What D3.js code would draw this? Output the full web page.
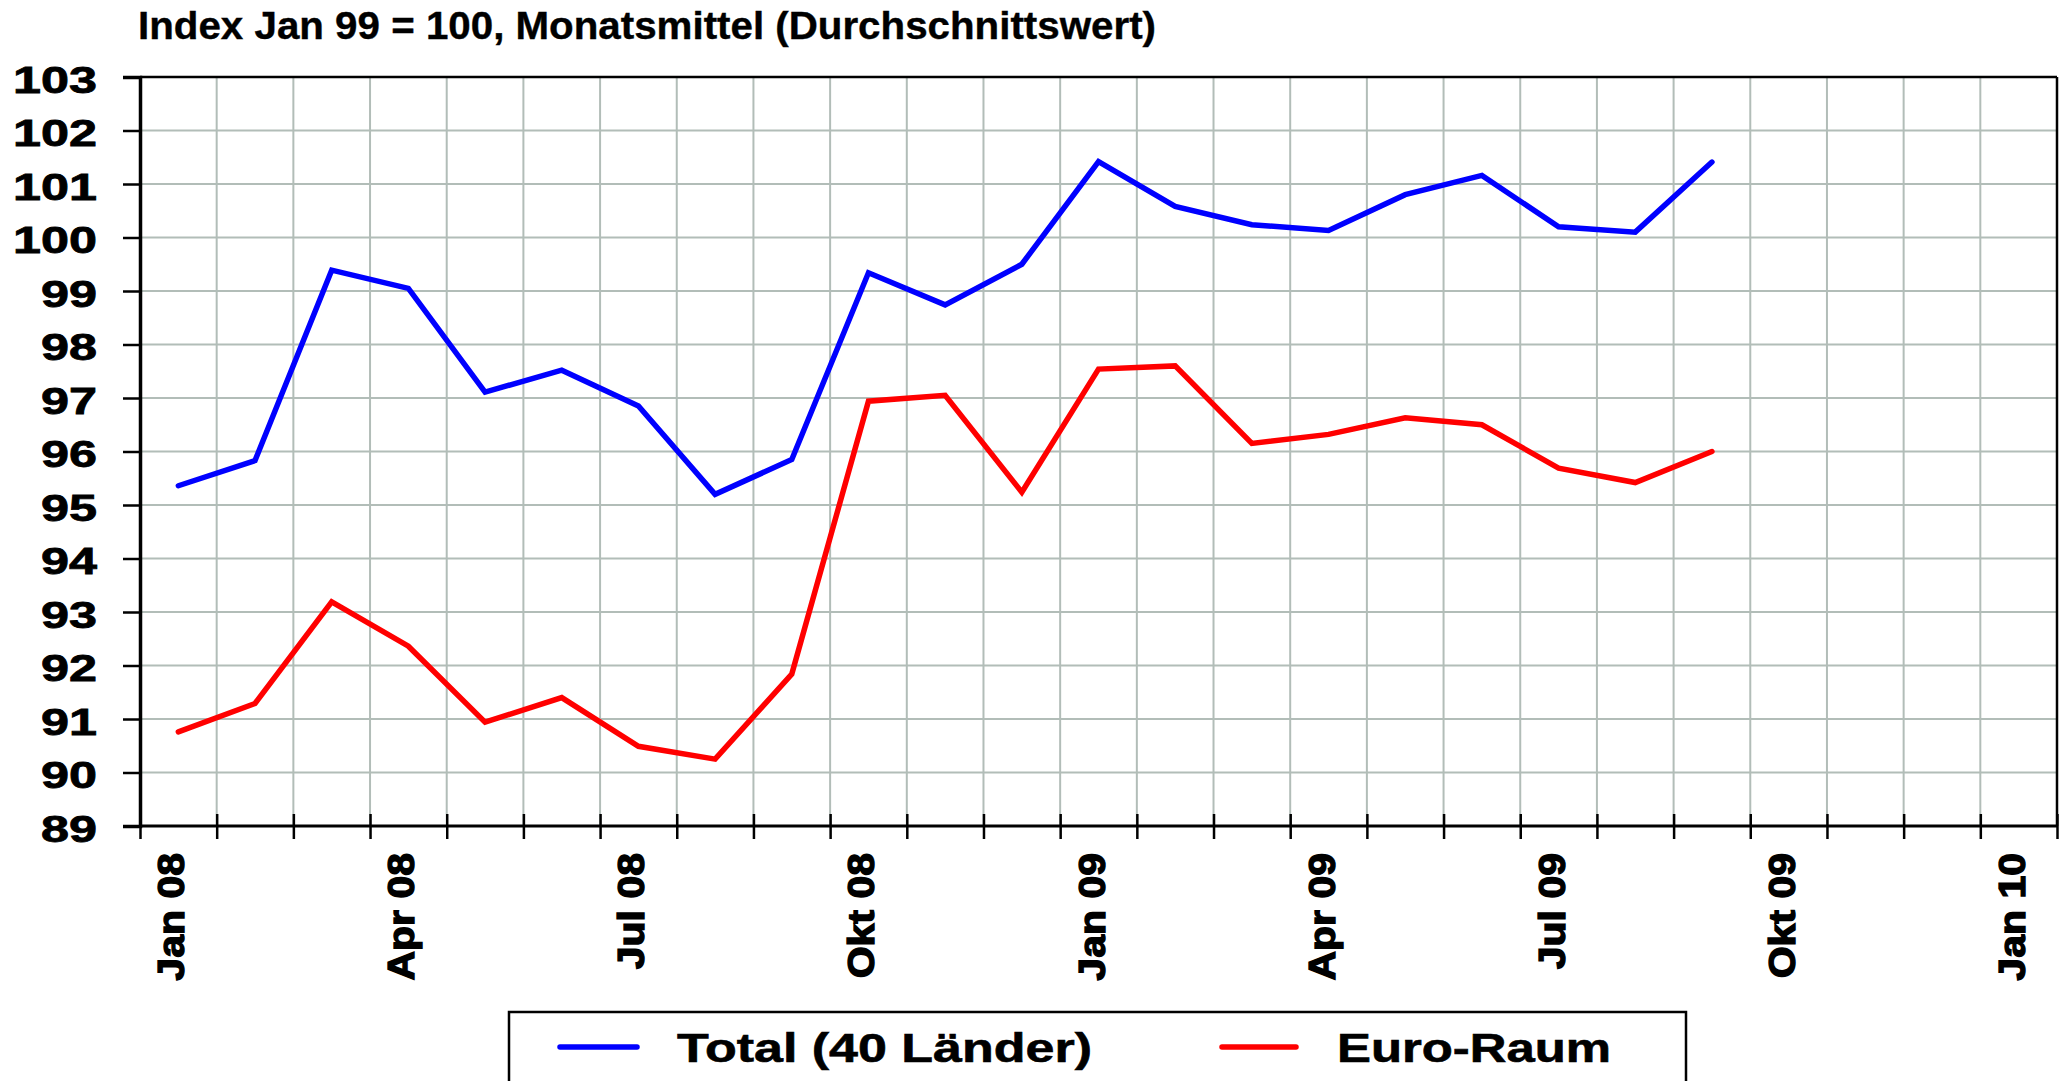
<!DOCTYPE html>
<html>
<head>
<meta charset="utf-8">
<script src="https://cdn.jsdelivr.net/npm/d3@7"></script>
<style>
  body { margin: 0; background: #fff; }
  svg { display: block; }
  text { font-family: Arial, "Liberation Sans", sans-serif; font-weight: bold; fill: #000; }
</style>
</head>
<body>
<div id="chart-area"></div>
<script>
// months on the x axis (Jan 08 .. Jan 10)
var months = ["Jan 08","Feb 08","Mär 08","Apr 08","Mai 08","Jun 08","Jul 08","Aug 08","Sep 08","Okt 08","Nov 08","Dez 08",
              "Jan 09","Feb 09","Mär 09","Apr 09","Mai 09","Jun 09","Jul 09","Aug 09","Sep 09","Okt 09","Nov 09","Dez 09","Jan 10"];
var labelMonths = ["Jan 08","Apr 08","Jul 08","Okt 08","Jan 09","Apr 09","Jul 09","Okt 09","Jan 10"];

// Index Jan 99 = 100
var totalValues = [95.36, 95.83, 99.39, 99.05, 97.11, 97.52, 96.85, 95.20, 95.85, 99.34, 98.74, 99.50,
                   101.42, 100.58, 100.24, 100.13, 100.80, 101.16, 100.20, 100.10, 101.41];
var euroValues  = [90.76, 91.29, 93.19, 92.36, 90.94, 91.40, 90.49, 90.25, 91.84, 96.94, 97.05, 95.24,
                   97.54, 97.60, 96.15, 96.32, 96.63, 96.50, 95.69, 95.42, 96.00];

var yTicks = d3.range(89, 104);
var seriesNames = ["Total (40 Länder)", "Euro-Raum"];
var seriesColors = ["#0000ff", "#ff0000"];

var W = 2067, H = 1081;
var plotLeft = 140, plotRight = 2057, plotTop = 77, plotBottom = 826;

var svg = d3.select("#chart-area")
    .append("svg")
        .attr("width", W)
        .attr("height", H);

// Scales
var x = d3.scaleBand()
    .domain(months)
    .range([plotLeft, plotRight]);

var xi = d3.scaleLinear()
    .domain([0, months.length])
    .range([plotLeft, plotRight]);

var y = d3.scaleLinear()
    .domain([89, 103])
    .range([plotBottom, plotTop]);

// Grid
var grid = svg.append("g").attr("stroke", "#b2bdb8").attr("stroke-width", 2);
grid.selectAll(".hg")
    .data(yTicks.slice(1, -1))
    .enter().append("line")
        .attr("x1", plotLeft).attr("x2", plotRight)
        .attr("y1", function(d){ return y(d); })
        .attr("y2", function(d){ return y(d); });
grid.selectAll(".vg")
    .data(d3.range(1, months.length))
    .enter().append("line")
        .attr("y1", plotTop).attr("y2", plotBottom)
        .attr("x1", function(d){ return xi(d); })
        .attr("x2", function(d){ return xi(d); });

// Frame top/right
svg.append("line").attr("x1", plotLeft).attr("x2", plotRight).attr("y1", plotTop).attr("y2", plotTop)
    .attr("stroke", "#000").attr("stroke-width", 2.5);
svg.append("line").attr("x1", plotRight).attr("x2", plotRight).attr("y1", plotTop).attr("y2", plotBottom)
    .attr("stroke", "#000").attr("stroke-width", 2.5);

// Y Axis
var yAxisCall = d3.axisLeft(y)
    .tickValues(yTicks)
    .tickSize(17)
    .tickFormat(function(d){ return d; });
var yAxis = svg.append("g")
    .attr("class", "y axis")
    .attr("transform", "translate(" + plotLeft + ",0)")
    .call(yAxisCall);
yAxis.select(".domain").attr("stroke-width", 3.5);
yAxis.selectAll(".tick line").attr("stroke-width", 2.5);
yAxis.selectAll(".tick text")
    .attr("font-size", "37px")
    .attr("font-family", null)
    .attr("x", -43)
    .attr("dy", null)
    .attr("y", 15)
    .attr("stroke", "#000")
    .attr("stroke-width", 0.8)
    .attr("textLength", function(d){ return String(d).length * 28; })
    .attr("lengthAdjust", "spacingAndGlyphs");

// X Axis: tick marks at month boundaries, crossing the axis line
var xTickCall = d3.axisBottom(xi)
    .tickValues(d3.range(0, months.length + 1))
    .tickSize(25)
    .tickFormat("");
var xTicks = svg.append("g")
    .attr("class", "x ticks")
    .attr("transform", "translate(0," + (plotBottom - 12) + ")")
    .call(xTickCall);
xTicks.select(".domain").remove();
xTicks.selectAll(".tick line").attr("stroke-width", 2.5);

svg.append("line")
    .attr("x1", plotLeft).attr("x2", plotRight)
    .attr("y1", plotBottom).attr("y2", plotBottom)
    .attr("stroke", "#000").attr("stroke-width", 3);

// X Labels
svg.selectAll(".xlabel")
    .data(labelMonths)
    .enter().append("text")
        .attr("class", "xlabel")
        .attr("text-anchor", "end")
        .attr("font-size", "41px")
        .attr("stroke", "#000")
        .attr("stroke-width", 1.5)
        .attr("transform", function(d){
            return "translate(" + (x(d) + x.bandwidth() / 2 + 6) + "," + 853 + ") rotate(-90) scale(1,0.9)";
        })
        .text(function(d){ return d; });

// Lines
var series = [totalValues, euroValues];
var line = d3.line()
    .x(function(d, i){ return x(months[i]) + x.bandwidth() / 2; })
    .y(function(d){ return y(d); });

svg.selectAll(".series")
    .data(series)
    .enter().append("path")
        .attr("class", "series")
        .attr("d", line)
        .attr("fill", "none")
        .attr("stroke", function(d, i){ return seriesColors[i]; })
        .attr("stroke-width", 5.5)
        .attr("stroke-linejoin", "miter")
        .attr("stroke-linecap", "round");

// Title
svg.append("text")
    .attr("x", 138)
    .attr("y", 39)
    .attr("font-size", "39px")
    .attr("stroke", "#000")
    .attr("stroke-width", 0.4)
    .attr("textLength", 1018)
    .attr("lengthAdjust", "spacingAndGlyphs")
    .text("Index Jan 99 = 100, Monatsmittel (Durchschnittswert)");

// Legend
var legend = svg.append("g");
legend.append("rect")
    .attr("x", 509).attr("y", 1012)
    .attr("width", 1686 - 509).attr("height", 120)
    .attr("fill", "#fff")
    .attr("stroke", "#000")
    .attr("stroke-width", 2.5);

var legendItems = [
    { lx1: 560, lx2: 637, tx: 677, tl: 415 },
    { lx1: 1222, lx2: 1296, tx: 1337, tl: 274 }
];
legendItems.forEach(function(p, i){
    legend.append("line")
        .attr("x1", p.lx1).attr("x2", p.lx2)
        .attr("y1", 1047).attr("y2", 1047)
        .attr("stroke", seriesColors[i])
        .attr("stroke-width", 5.5)
        .attr("stroke-linecap", "round");
    legend.append("text")
        .attr("x", p.tx)
        .attr("y", 1062)
        .attr("font-size", "40px")
        .attr("stroke", "#000")
        .attr("stroke-width", 0.6)
        .attr("textLength", p.tl)
        .attr("lengthAdjust", "spacingAndGlyphs")
        .text(seriesNames[i]);
});
</script>
</body>
</html>
